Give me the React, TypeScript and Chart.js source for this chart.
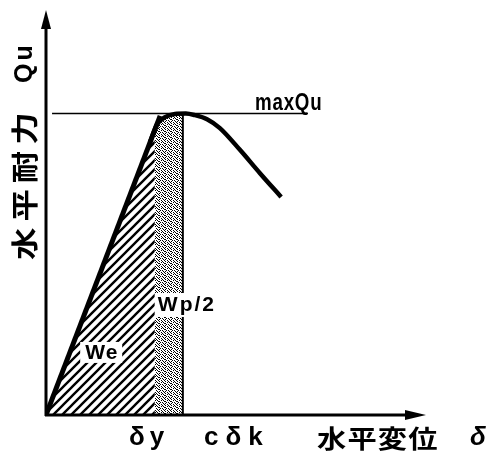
import React, { useEffect, useRef } from "react";
import { Chart, registerables } from "chart.js";

Chart.register(...registerables);

// ---- data (schematic units) ----
const X_MAX = 100;
const Y_MAX = 100;
const elasticX = [0, 30.2];
const elasticY = [0, 74.2];
const curveX = [27.5, 29.4, 31.5, 34.1, 37.0, 39.4, 42.6, 46.0, 51.3, 56.6, 62.2];
const curveY = [67.7, 72.2, 73.9, 74.7, 74.8, 74.4, 73.4, 71.2, 65.8, 60.0, 54.1];
const deltaY = 28.8;
const cDeltaK = 36.2;
const maxQu = 74.8;
const maxLineX = [1.6, 69.3];
const hatchX = [0, deltaY];
const hatchY = [0, 70.8];
const dotX = [28.8, 29.4, 31.5, 34.1, 36.2];
const dotY = [70.8, 72.2, 73.9, 74.7, 74.8];

// ---- text ----
const labelMaxQu = "maxQu";
const labelWe = "We";
const labelWp = "Wp/2";
const tickDeltaY = "δy";
const tickCDeltaK = "cδk";
const xTitleJa = "水平変位";
const xTitleSym = "δ";
const yTitleJa = "水平耐力";
const yTitleSym = "Qu";

const LATIN = '"Liberation Sans", Arial, sans-serif';
const CJK = '"Noto Sans CJK JP", "Noto Sans", sans-serif';

const DOT_ROWS = ["X...X.", ".X.X..", "..X..X", "X..X..", ".X...X", "..XX.."];

function pts(xs: number[], ys: number[]) {
  return xs.map((x, i) => ({ x, y: ys[i] }));
}

function makeHatch(): CanvasPattern | string {
  const n = 9;
  const c = document.createElement("canvas");
  c.width = n;
  c.height = n;
  const g = c.getContext("2d");
  if (!g) return "#888";
  g.fillStyle = "#fff";
  g.fillRect(0, 0, n, n);
  g.strokeStyle = "#000";
  g.lineWidth = 2.4;
  g.beginPath();
  g.moveTo(-2, n + 2);
  g.lineTo(n + 2, -2);
  g.moveTo(-3, 3);
  g.lineTo(3, -3);
  g.moveTo(n - 3, n + 3);
  g.lineTo(n + 3, n - 3);
  g.stroke();
  return g.createPattern(c, "repeat") || "#888";
}

function makeDots(): CanvasPattern | string {
  const c = document.createElement("canvas");
  c.width = 6;
  c.height = 6;
  const g = c.getContext("2d");
  if (!g) return "#999";
  g.fillStyle = "#fff";
  g.fillRect(0, 0, 6, 6);
  g.fillStyle = "#000";
  DOT_ROWS.forEach((row, y) => {
    for (let x = 0; x < row.length; x++) if (row[x] === "X") g.fillRect(x, y, 1, 1);
  });
  return g.createPattern(c, "repeat") || "#999";
}

function drawScaled(ctx: any, text: string, x: number, y: number, font: string, sx: number, spacing: number) {
  ctx.save();
  ctx.translate(x, y);
  ctx.scale(sx, 1);
  ctx.font = font;
  ctx.letterSpacing = `${spacing}px`;
  ctx.fillText(text, 0, 0);
  ctx.restore();
}

const decorPlugin = {
  id: "decor",
  afterDraw(chart: any) {
    const { ctx, chartArea, scales } = chart;
    const xs = scales.x;
    const ys = scales.y;
    const L = chartArea.left;
    const B = chartArea.bottom;
    const T = chartArea.top;
    const R = chartArea.right;
    ctx.save();
    ctx.fillStyle = "#000";
    ctx.strokeStyle = "#000";
    // axes
    ctx.lineWidth = 3;
    ctx.beginPath();
    ctx.moveTo(L, B + 1);
    ctx.lineTo(L, T + 14);
    ctx.moveTo(L - 1, B);
    ctx.lineTo(R - 16, B);
    ctx.stroke();
    ctx.beginPath();
    ctx.moveTo(L, T - 2);
    ctx.lineTo(L - 5, T + 17);
    ctx.lineTo(L + 5, T + 17);
    ctx.closePath();
    ctx.fill();
    ctx.beginPath();
    ctx.moveTo(R + 2, B);
    ctx.lineTo(R - 19, B - 5);
    ctx.lineTo(R - 19, B + 5);
    ctx.closePath();
    ctx.fill();

    // label boxes
    ctx.textBaseline = "middle";
    ctx.textAlign = "left";
    const weX = xs.getPixelForValue(14.6);
    const weY = ys.getPixelForValue(15.4);
    ctx.fillStyle = "#fff";
    ctx.fillRect(weX - 21, weY - 11, 42, 21);
    ctx.fillStyle = "#000";
    drawScaled(ctx, labelWe, weX - 16, weY, `bold 21px ${LATIN}`, 1, 1);

    const wpX = xs.getPixelForValue(deltaY);
    const wpY = ys.getPixelForValue(27.3);
    ctx.fillStyle = "#fff";
    ctx.fillRect(wpX, wpY - 12, 62, 24);
    ctx.fillStyle = "#000";
    drawScaled(ctx, labelWp, wpX + 3, wpY, `bold 21px ${LATIN}`, 1, 2);

    // maxQu
    ctx.textBaseline = "alphabetic";
    drawScaled(ctx, labelMaxQu, xs.getPixelForValue(55.3), ys.getPixelForValue(maxQu) - 4, `bold 24px ${LATIN}`, 0.78, 1);

    // x ticks
    ctx.textBaseline = "middle";
    ctx.textAlign = "center";
    ctx.font = `bold 26px ${LATIN}`;
    (ctx as any).letterSpacing = "5px";
    ctx.fillText(tickDeltaY, xs.getPixelForValue(27.3), B + 23);
    (ctx as any).letterSpacing = "7px";
    ctx.fillText(tickCDeltaK, xs.getPixelForValue(50.5), B + 23);
    (ctx as any).letterSpacing = "0px";

    // x title
    ctx.textAlign = "left";
    const xt = xs.getPixelForValue(71.7);
    drawScaled(ctx, xTitleJa, xt, B + 23, `bold 25px ${CJK}`, 1.17, 1);
    drawScaled(ctx, xTitleSym, xt + 153, B + 23, `italic bold 26px ${LATIN}`, 1, 0);

    // y title (rotated)
    ctx.translate(L - 21, B - 155);
    ctx.rotate(-Math.PI / 2);
    ctx.textAlign = "left";
    drawScaled(ctx, yTitleJa, 0, 0, `bold 27px ${CJK}`, 1.2, 5);
    drawScaled(ctx, yTitleSym, 177, 0, `bold 25px ${LATIN}`, 1, 3);
    ctx.restore();
  },
};

export default function App() {
  const ref = useRef<HTMLCanvasElement | null>(null);
  useEffect(() => {
    if (!ref.current) return;
    const hatch = makeHatch();
    const dots = makeDots();
    const chart = new Chart(ref.current, {
      type: "line",
      data: {
        datasets: [
          {
            data: pts(elasticX, elasticY),
            borderColor: "#000",
            borderWidth: 5,
            pointRadius: 0,
            fill: false,
            order: 1,
          },
          {
            data: pts(curveX, curveY),
            borderColor: "#000",
            borderWidth: 4.5,
            pointRadius: 0,
            cubicInterpolationMode: "monotone",
            fill: false,
            order: 1,
          },
          {
            data: pts(maxLineX, [maxQu, maxQu]),
            borderColor: "#000",
            borderWidth: 1.5,
            pointRadius: 0,
            fill: false,
            order: 1,
          },
          {
            data: pts([cDeltaK, cDeltaK], [0, maxQu]),
            borderColor: "#000",
            borderWidth: 2,
            pointRadius: 0,
            fill: false,
            order: 1,
          },
          {
            data: pts(hatchX, hatchY),
            borderWidth: 0,
            borderColor: "rgba(0,0,0,0)",
            backgroundColor: hatch as any,
            pointRadius: 0,
            fill: "origin",
            order: 3,
          },
          {
            data: pts(dotX, dotY),
            borderWidth: 0,
            borderColor: "rgba(0,0,0,0)",
            backgroundColor: dots as any,
            pointRadius: 0,
            cubicInterpolationMode: "monotone",
            fill: "origin",
            order: 3,
          },
        ],
      },
      options: {
        animation: false,
        responsive: false,
        maintainAspectRatio: false,
        parsing: false as any,
        layout: { padding: { left: 46, right: 68, top: 12, bottom: 40 } },
        plugins: { legend: { display: false }, tooltip: { enabled: false } },
        scales: {
          x: { type: "linear", min: 0, max: X_MAX, display: false },
          y: { type: "linear", min: 0, max: Y_MAX, display: false },
        },
      },
      plugins: [decorPlugin],
    });
    return () => chart.destroy();
  }, []);
  return (
    <div style={{ position: "fixed", left: 0, top: 0, width: 492, height: 455, background: "#fff" }}>
      <canvas ref={ref} width={492} height={455} style={{ width: 492, height: 455 }} />
    </div>
  );
}
